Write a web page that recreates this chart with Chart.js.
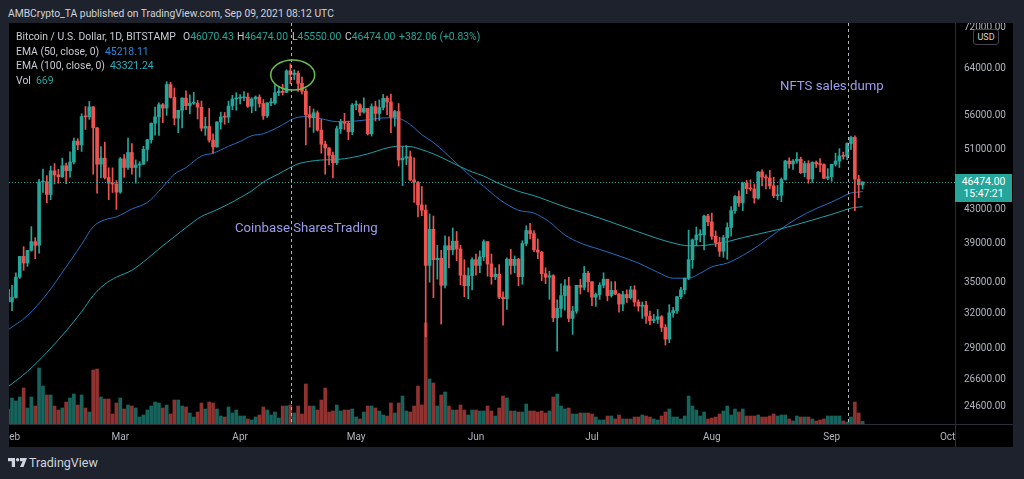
<!DOCTYPE html>
<html>
<head>
<meta charset="utf-8">
<script src="https://cdn.jsdelivr.net/npm/chart.js@4"></script>
<style>
  body { margin: 0; width: 1024px; height: 479px; background: #1e222d; overflow: hidden; position: relative; font-family: Roboto, sans-serif; }
  #wrap { position: absolute; left: 9px; top: 23px; width: 1004px; height: 424px; background: #000; }
  .t { position: absolute; white-space: nowrap; z-index: 5; }
  .lg { font-size: 10.4px; color: #c8cbd3; line-height: 12px; }
  .up { color: #26a69a; }
  .note { font-size: 13.2px; color: #9c9df0; line-height: 16px; }
</style>
</head>
<body>

<div class="t" style="left:8px;top:7px;font-size:10.3px;color:#d1d4dc;line-height:14px">AMBCrypto_TA published on TradingView.com, Sep 09, 2021 08:12 UTC</div>

<div id="wrap"><canvas id="c" width="1004" height="424"></canvas></div>

<!-- legend -->
<div class="t lg" style="left:16px;top:31px">Bitcoin / U.S. Dollar, 1D, BITSTAMP</div>
<div class="t lg" style="left:183px;top:31px">O<span class="up">46070.43</span></div>
<div class="t lg" style="left:237px;top:31px">H<span class="up">46474.00</span></div>
<div class="t lg" style="left:292px;top:31px">L<span class="up">45550.00</span></div>
<div class="t lg" style="left:345px;top:31px">C<span class="up">46474.00</span></div>
<div class="t lg up" style="left:399px;top:31px">+382.06 (+0.83%)</div>
<div class="t lg" style="left:16px;top:46px">EMA (50, close, 0)</div>
<div class="t lg" style="left:105px;top:46px;color:#2a8ae0">45218.11</div>
<div class="t lg" style="left:16px;top:60px">EMA (100, close, 0)</div>
<div class="t lg" style="left:110px;top:60px;color:#26b0bd">43321.24</div>
<div class="t lg" style="left:16px;top:75px">Vol</div>
<div class="t lg up" style="left:36px;top:75px">669</div>

<!-- notes -->
<div class="t note" style="left:235px;top:220px">Coinbase SharesTrading</div>
<div class="t note" style="left:780px;top:78px">NFTS sales dump</div>

<!-- price scale extras -->
<div class="t" style="left:973px;top:29px;width:24px;height:14px;border:1px solid #434651;border-radius:3px;background:#000;color:#d1d4dc;font-size:9px;line-height:14px;text-align:center">USD</div>
<div class="t" style="left:955px;top:174px;width:57px;height:28px;background:#26a69a;color:#fff;font-size:10.4px;line-height:12px;text-align:center;padding-top:2px;box-sizing:border-box">46474.00<br>15:47:21</div>

<!-- footer -->
<svg class="t" style="left:8px;top:458px" width="20" height="10" viewBox="0 0 20 10">
  <rect x="0" y="0" width="7" height="3.2" fill="#d1d4dc"/>
  <rect x="3.8" y="0" width="3.2" height="9" fill="#d1d4dc"/>
  <circle cx="9.6" cy="1.7" r="1.7" fill="#d1d4dc"/>
  <polygon points="12,0 19,0 15.5,9 12,9 14.6,3.2 12,3.2" fill="#d1d4dc"/>
</svg>
<div class="t" style="left:29px;top:455px;font-size:12.5px;color:#d1d4dc;line-height:16px">TradingView</div>

<script>
// day index: 0 = 1 Feb 2021, first candle is 31 Jan
const firstDay = -1;
const monthDays = [0, 28, 59, 89, 120, 150, 181, 212, 242];
const monthNames = ['Feb', 'Mar', 'Apr', 'May', 'Jun', 'Jul', 'Aug', 'Sep', 'Oct'];
const priceTicks = [24600, 26600, 29000, 32000, 35000, 39000, 43000, 51000, 56000, 64000, 72000];
const lastPrice = 46474;
const markDays = [72.2, 216.3];
const circleDay = 72.6, circlePrice = 62860;

const open = [34270,33110,33520,35500,37650,36950,38290,39250,38850,46450,
  46500,44850,47950,47400,47150,48650,47950,49150,52150,51600,
  55900,55850,57450,54150,48850,49700,47050,46300,46200,45150,
  49600,48400,50500,48400,48750,48850,50950,52350,54850,55850,
  57800,57250,61200,59000,55650,56900,58900,57650,58050,58050,
  57400,54100,54350,52300,51300,55050,55850,55800,57600,58750,
  58850,58950,59050,57550,58750,59050,58000,56000,58100,58100,
  59800,60050,59850,63600,62950,63200,61400,60050,56200,55700,
  56500,53800,51700,51150,50100,49050,54000,55050,54850,53550,
  57750,57800,56600,57200,53250,57500,56400,57350,58850,58250,
  55800,56700,49450,49700,49900,46750,46400,43550,42900,36700,
  40650,37300,37450,34700,38800,38350,39300,38450,35700,34650,
  35650,37300,36700,37600,39250,36850,35550,35800,33550,33400,
  37350,36700,37350,35550,39050,40500,40150,38350,38100,35850,
  35500,35650,31650,32500,33700,34650,31600,32250,34700,34500,
  35900,35050,33550,33800,34700,35300,33700,34200,33850,32900,
  33800,33500,34250,33100,32700,32800,31800,31400,31500,31750,
  30800,29800,32100,32300,33600,34250,35400,37300,39450,40000,
  40000,42200,41500,39850,39150,38200,39700,40850,42850,44600,
  43800,46300,45600,45550,44400,47800,47100,47000,45950,44700,
  44750,46800,49300,48900,49300,49550,47700,48950,46850,49100,
  48900,48800,46950,47150,48850,49300,50000,49950,51800,52700,
  46850,46070];

const high = [34300,34700,35950,37650,38700,38300,40950,39700,46800,48200,
  47300,48600,48950,48150,49700,49000,50600,52600,52500,56350,
  57500,58350,57500,54200,51350,52000,48350,48350,46650,49800,
  50200,52600,51800,49450,49200,51400,52400,54900,57400,58100,
  58000,61700,61600,60600,56900,58950,60100,59450,59850,58500,
  58400,55800,57200,53250,55100,56600,56550,58400,59350,59800,
  59500,60000,59750,58950,59250,59450,58650,58150,58850,61200,
  60700,61250,63800,64900,63800,63550,62500,60450,57550,57100,
  56800,55450,52150,51200,50550,54400,55450,56400,55200,58000,
  58450,57950,58950,57200,57950,58350,58600,59500,59250,59550,
  56900,58000,51350,51500,50700,49750,46550,45850,43550,42450,
  42200,38850,38300,39900,39800,40800,40400,38850,37300,36450,
  37500,37900,38250,39450,39250,37900,36450,36800,34050,37500,
  38400,37700,37450,39350,41050,41350,40500,39550,38200,36450,
  36100,35750,33300,34850,35250,35500,32700,34700,35300,36600,
  36100,35050,33950,34950,35950,35300,35050,35050,33900,34100,
  34250,34600,34650,33300,33100,33150,32250,31950,32400,31850,
  31050,32850,32600,33600,34500,35400,40550,39550,40900,40600,
  42300,42400,42550,40450,39750,39950,41400,43350,44700,45300,
  46450,46700,46750,46200,47850,48100,47400,48000,47100,46000,
  47000,49400,49750,49500,50500,49850,49250,49350,49200,49300,
  49650,48900,48250,48850,50400,51050,50550,51900,52900,52950,
  47350,46474];

const low = [32300,32300,33450,35380,36200,36600,38200,37400,37990,45100,
  43800,44200,46200,46300,47050,46250,47100,48900,50900,50650,
  53900,55450,47500,45000,47000,46850,44200,45100,43000,45000,
  47050,48150,47500,46300,47100,48850,49300,51850,53050,53000,
  54950,56100,58900,54600,53400,54150,57000,56300,57850,55500,
  53650,53000,52000,50400,51250,53950,54700,54950,57000,56900,
  57950,58450,57350,56500,56800,57400,55450,55750,57650,57850,
  59300,59400,59800,61300,62050,60000,59600,51600,54250,53450,
  53650,50400,47500,48800,47000,48800,53300,53900,52350,53100,
  57000,56050,56450,53050,52900,55200,55300,56950,56200,53400,
  54400,48600,46000,48800,46600,43850,42100,42250,30000,35000,
  33500,35300,31100,34450,36450,37850,37200,34750,33600,33400,
  34250,35700,35950,37200,35600,34800,35250,33400,31000,32400,
  35800,35950,34650,34800,38800,39550,38150,37400,35150,34850,
  33350,31300,28800,31700,32350,31300,30200,32050,33850,34250,
  34050,32750,32700,33350,34450,33200,33550,33800,32150,32300,
  33050,33350,32700,32250,31600,31150,31050,31200,31150,30450,
  29300,29500,31700,32050,33400,33850,35250,36400,38800,39250,
  38350,41050,39500,38700,37650,37550,37350,39850,42500,43350,
  42850,44950,45350,43750,44250,45950,45550,45550,44450,44200,
  43950,46700,48300,48150,49000,47600,47150,46300,46400,48400,
  47800,46900,46750,46550,48600,48400,49550,49500,50950,42850,
  44450,45550];

const close = [33110,33520,35500,37650,36950,38290,39250,38850,46450,46500,
  44850,47950,47400,47150,48650,47950,49150,52150,51600,55900,
  55850,57450,54150,48850,49700,47050,46300,46200,45150,49600,
  48400,50500,48400,48750,48850,50950,52350,54850,55850,57800,
  57250,61200,59000,55650,56900,58900,57650,58050,58050,57400,
  54100,54350,52300,51300,55050,55850,55800,57600,58750,58850,
  58950,59050,57550,58750,59050,58000,56000,58100,58100,59800,
  60050,59850,63600,62950,63200,61400,60050,56200,55700,56500,
  53800,51700,51150,50100,49050,54000,55050,54850,53550,57750,
  57800,56600,57200,53250,57500,56400,57350,58850,58250,55800,
  56700,49450,49700,49900,46750,46400,43550,42900,36700,40650,
  37300,37450,34700,38800,38350,39300,38450,35700,34650,35650,
  37300,36700,37600,39250,36850,35550,35800,33550,33400,37350,
  36700,37350,35550,39050,40500,40150,38350,38100,35850,35500,
  35650,31650,32500,33700,34650,31600,32250,34700,34500,35900,
  35050,33550,33800,34700,35300,33700,34200,33850,32900,33800,
  33500,34250,33100,32700,32800,31800,31400,31500,31750,30800,
  29800,32100,32300,33600,34250,35400,37300,39450,40000,40000,
  42200,41500,39850,39150,38200,39700,40850,42850,44600,43800,
  46300,45600,45550,44400,47800,47100,47000,45950,44700,44750,
  46800,49300,48900,49300,49550,47700,48950,46850,49100,48900,
  48800,46950,47150,48850,49300,50000,49950,51800,52700,46850,
  46092,46474];

const volume = [3750,6500,5750,6750,9000,4000,6750,4500,14000,9500,
  7250,7250,4500,3500,4000,5500,6500,7500,4750,7250,
  4000,3000,13500,13750,6750,6250,6250,2500,5250,6500,
  3750,4750,4500,4000,1750,2250,3500,4500,5500,5250,
  4000,4750,2500,6000,6000,4500,4250,2750,1750,3000,
  5250,3750,5500,5250,3750,2000,1750,4250,2750,3500,
  2000,2000,1250,1000,1750,2250,4250,3500,2250,3000,
  1500,4500,4500,4750,2750,4500,2500,10000,4500,4500,
  3500,6000,9000,3000,3250,4750,3250,3500,3500,3750,
  1750,1250,3000,4500,4500,4000,3250,2250,2000,5250,
  2750,5250,7000,3250,3000,4500,9500,4750,25250,11250,
  10250,4500,7250,8000,4500,3500,3500,4750,3500,2250,
  3500,3500,3250,3250,4500,3250,2000,4000,7000,6500,
  3250,3250,3000,3000,5000,3250,3250,3000,3250,2750,
  3250,6750,7500,4500,3750,4000,2500,2500,2750,2750,
  2750,2500,1750,1000,1000,2000,2000,1250,2250,1250,
  1250,1250,1750,1750,2250,2000,1750,1250,1000,2000,
  3000,3750,1750,1750,1250,2000,7000,4500,3500,2000,
  3000,1250,1500,1750,2500,3250,4500,2250,3750,3000,
  3750,2000,2000,2000,2250,1750,1750,2000,2500,2000,
  2250,2250,1250,750,2000,1750,1750,1750,1250,750,
  1000,1250,2000,2000,2000,2000,750,500,1750,5500,
  2750,669];

// EMA values
const emaDays = [-1,4,9,14,18,21,24,27,31,35,38,42,45,49,52,56,59,62,65,69,
  74,77,80,84,88,92,97,100,103,106,109,112,116,119,122,126,131,135,139,143,
  147,152,157,162,167,171,175,178,181,185,189,193,198,203,208,212,215,217,218,219,220];
const ema50 = [30600,31850,33850,36550,38950,40950,41750,42100,43050,43850,45250,47500,48400,50000,50400,51400,52100,52950,53250,54300,
  55800,55900,55550,55100,55150,55400,55700,55600,54650,53100,51950,50500,48450,47100,45900,44250,42900,42550,41500,40000,
  39100,38400,37700,36950,36000,35400,35400,35900,36550,36950,37750,38800,40400,41900,43100,43900,44600,45050,45120,45160,45218];
const ema100 = [26050,27200,28700,30500,32200,33700,34800,35500,36200,37400,38450,39800,40850,42150,42750,43650,44450,45300,46450,47550,
  48900,49250,49440,49500,49800,50300,51150,51400,51350,50900,50300,49550,48500,47800,47250,46250,45250,44700,44000,43300,
  42700,41950,41150,40350,39600,39100,38800,38800,38950,39250,39700,40100,40600,41200,41850,42400,42850,43150,43230,43280,43321];

const green = '#26a69a', red = '#ef5350';
const isUp = i => close[i] >= open[i];
const days = close.map((c, i) => firstDay + i);

const overlay = {
  id: 'overlay',
  afterDatasetsDraw(chart) {
    const { ctx, chartArea: a, scales: { x, y } } = chart;
    ctx.save();
    ctx.lineWidth = 1;
    // last price line
    const py = Math.round(y.getPixelForValue(lastPrice)) + 0.5;
    ctx.strokeStyle = green;
    ctx.setLineDash([1, 2]);
    ctx.beginPath(); ctx.moveTo(a.left, py); ctx.lineTo(a.right, py); ctx.stroke();
    // event lines
    ctx.strokeStyle = '#b2b5be';
    ctx.setLineDash([3, 3]);
    markDays.forEach(d => {
      const px = Math.round(x.getPixelForValue(d)) + 0.5;
      ctx.beginPath(); ctx.moveTo(px, a.top); ctx.lineTo(px, a.bottom); ctx.stroke();
    });
    // circle round the top
    ctx.setLineDash([]);
    ctx.strokeStyle = '#6abf4b';
    ctx.lineWidth = 1.5;
    ctx.beginPath();
    ctx.ellipse(x.getPixelForValue(circleDay), y.getPixelForValue(circlePrice), 22, 15, 0, 0, Math.PI * 2);
    ctx.stroke();
    ctx.restore();
  },
  afterDraw(chart) {
    const { ctx, chartArea: a } = chart;
    ctx.save();
    ctx.strokeStyle = '#2a2e39';
    ctx.lineWidth = 1;
    ctx.beginPath();
    ctx.moveTo(0, a.bottom + 0.5); ctx.lineTo(chart.width, a.bottom + 0.5);
    ctx.moveTo(a.right + 0.5, 0); ctx.lineTo(a.right + 0.5, chart.height);
    ctx.stroke();
    ctx.restore();
  }
};

const tickFont = { family: 'Roboto', size: 10 };

new Chart(document.getElementById('c'), {
  type: 'bar',
  data: {
    datasets: [
      {
        label: 'Vol', yAxisID: 'yv', order: 4, grouped: false, barThickness: 3,
        data: days.map((d, i) => ({ x: d, y: volume[i] })),
        backgroundColor: ctx => isUp(ctx.dataIndex) ? 'rgba(38,166,154,0.6)' : 'rgba(239,83,80,0.6)'
      },
      {
        type: 'line', label: 'EMA 100', order: 3,
        data: emaDays.map((d, i) => ({ x: d, y: ema100[i] })),
        borderColor: '#1fa2ab', borderWidth: 1, pointRadius: 0, cubicInterpolationMode: 'monotone'
      },
      {
        type: 'line', label: 'EMA 50', order: 3,
        data: emaDays.map((d, i) => ({ x: d, y: ema50[i] })),
        borderColor: '#226fc0', borderWidth: 1, pointRadius: 0, cubicInterpolationMode: 'monotone'
      },
      {
        label: 'wick', order: 2, grouped: false, barThickness: 1,
        data: days.map((d, i) => ({ x: d, y: [low[i], high[i]] })),
        backgroundColor: ctx => isUp(ctx.dataIndex) ? green : red
      },
      {
        label: 'body', order: 1, grouped: false, barThickness: 3, minBarLength: 1,
        data: days.map((d, i) => ({ x: d, y: [open[i], close[i]] })),
        backgroundColor: ctx => isUp(ctx.dataIndex) ? green : red
      }
    ]
  },
  options: {
    responsive: false,
    animation: false,
    events: [],
    layout: { padding: 0 },
    plugins: { legend: { display: false }, tooltip: { enabled: false } },
    scales: {
      x: {
        type: 'linear', min: -0.78, max: 243.9, offset: false,
        grid: { display: false, drawTicks: false }, border: { display: false },
        afterBuildTicks: s => { s.ticks = monthDays.map(v => ({ value: v })); },
        afterFit: s => { s.height = 23; s.paddingLeft = 0; s.paddingRight = 0; },
        ticks: {
          autoSkip: false, maxRotation: 0, padding: 7, color: '#b2b5be', font: tickFont,
          callback: v => monthNames[monthDays.indexOf(v)]
        }
      },
      y: {
        type: 'logarithmic', position: 'right', min: 23443, max: 72819,
        grid: { display: false, drawTicks: false }, border: { display: false },
        afterBuildTicks: s => { s.ticks = priceTicks.map(v => ({ value: v })); },
        afterFit: s => { s.width = 58; s.paddingTop = 0; s.paddingBottom = 0; },
        ticks: { padding: 9, color: '#b2b5be', font: tickFont, callback: v => Number(v).toFixed(2) }
      },
      yv: { type: 'linear', display: false, min: 0, max: 100250 }
    }
  },
  plugins: [overlay]
});
</script>
</body>
</html>
